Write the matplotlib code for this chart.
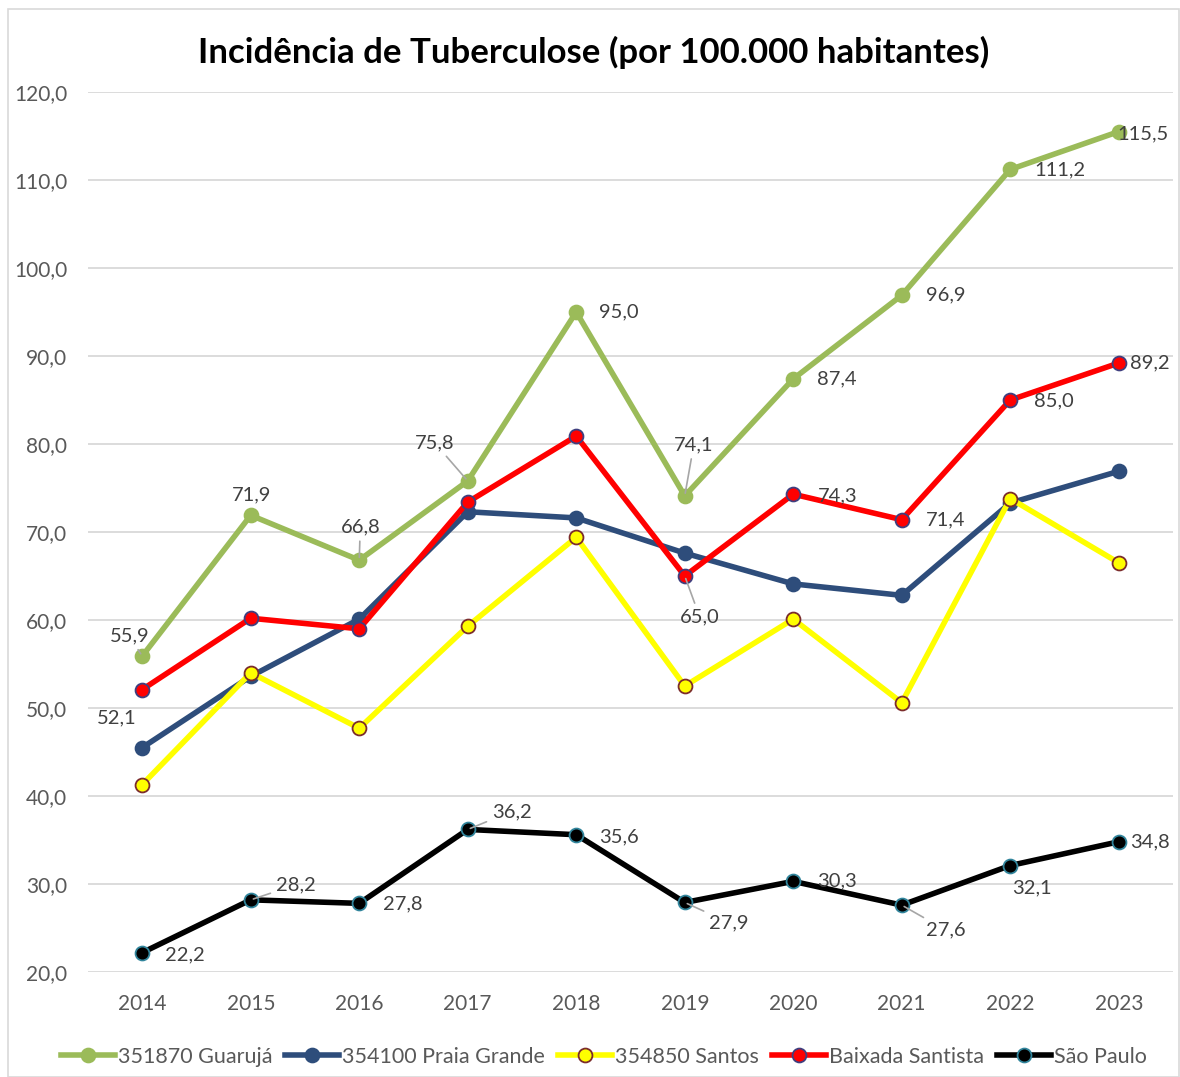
import matplotlib
matplotlib.use("Agg")
import matplotlib.pyplot as plt
from matplotlib.patches import Rectangle

plt.rcParams['font.family'] = ['Lato', 'DejaVu Sans']

years = ["2014", "2015", "2016", "2017", "2018", "2019", "2020", "2021", "2022", "2023"]
guaruja = [55.9, 71.9, 66.8, 75.8, 95.0, 74.1, 87.4, 96.9, 111.2, 115.5]
praia_grande = [45.5, 53.6, 60.1, 72.3, 71.6, 67.6, 64.1, 62.8, 73.3, 76.9]
santos = [41.3, 54.0, 47.7, 59.3, 69.4, 52.5, 60.1, 50.6, 73.8, 66.5]
baixada = [52.1, 60.2, 59.0, 73.4, 80.9, 65.0, 74.3, 71.4, 85.0, 89.2]
sao_paulo = [22.2, 28.2, 27.8, 36.2, 35.6, 27.9, 30.3, 27.6, 32.1, 34.8]
series_names = ["351870 Guarujá", "354100 Praia Grande", "354850 Santos",
                "Baixada Santista", "São Paulo"]
yticks = [20, 30, 40, 50, 60, 70, 80, 90, 100, 110, 120]

# label offsets in pixels (dx, dy; dy positive = up), None = no label, leader flag
g_off = [(-13, 20, True), (1, 20, False), (1, 33, True), (-33, 38, True), (43, 0, False),
         (9, 51, True), (44, 0, False), (44, 0, False), (50, 0, False), (24, -2, False)]
b_off = [(-26, -28, False), None, None, None, None, (15, -41, True), (44, -2, False),
         (44, 0, False), (44, -1, False), (31, 0, False)]
s_off = [(43, -2, False), (45, 15, True), (44, -1, False), (44, 18, True), (43, -2, False),
         (44, -20, True), (44, 0, False), (44, -25, True), (22, -22, False), (31, 0, False)]

W, H = 1180, 1077
fig = plt.figure(figsize=(W / 100, H / 100), dpi=100)
fig.patches.append(Rectangle((8 / W, 0), (W - 9) / W, (H - 9) / H, transform=fig.transFigure,
                             fill=False, edgecolor="#D9D9D9", lw=1.2))
ax = fig.add_axes([88 / W, 1 - 972 / H, (1173 - 88) / W, (972 - 92) / H])

x = list(range(len(years)))
styles = [
    dict(color="#9BBB59", mfc="#9BBB59", mec="#9BBB59"),
    dict(color="#2E4D7B", mfc="#2E4D7B", mec="#2E4D7B"),
    dict(color="#FFFF00", mfc="#FFFF00", mec="#7B2C2C"),
    dict(color="#FF0000", mfc="#FF0000", mec="#3F3F7F"),
    dict(color="#000000", mfc="#000000", mec="#31859C"),
]
data = [guaruja, praia_grande, santos, baixada, sao_paulo]
for i, (vals, st, name) in enumerate(zip(data, styles, series_names)):
    ax.plot(x, vals, lw=4.0, marker="o", ms=10, mew=1.3, label=name, zorder=3 + i,
            solid_joinstyle="miter", **st)

def fmt(v):
    return f"{v:.1f}".replace(".", ",")

for vals, offs in [(guaruja, g_off), (baixada, b_off), (sao_paulo, s_off)]:
    for xi, v, off in zip(x, vals, offs):
        if off is None:
            continue
        dx, dy, leader = off
        kw = {}
        if leader:
            kw["arrowprops"] = dict(arrowstyle="-", color="#A6A6A6", lw=1.2,
                                    shrinkA=2, shrinkB=2)
        ax.annotate(fmt(v), (xi, v), xytext=(dx, dy), textcoords="offset pixels",
                    ha="center", va="center", fontsize=14.5, color="#404040", zorder=20, **kw)

ax.set_xlim(-0.5, len(years) - 0.5)
ax.set_ylim(20, 120)
ax.set_xticks(x)
ax.set_xticklabels(years)
ax.set_yticks(yticks)
ax.set_yticklabels([fmt(t) for t in yticks])
ax.tick_params(length=0, labelsize=15, labelcolor="#595959")
ax.tick_params(axis="x", pad=16)
ax.tick_params(axis="y", pad=15)
ax.grid(axis="y", color="#D9D9D9", lw=1.3, zorder=0)
ax.set_axisbelow(True)
for s in ax.spines.values():
    s.set_visible(False)

fig.text(594 / W, 1 - 52 / H, "Incidência de Tuberculose (por 100.000 habitantes)",
         ha="center", va="center", fontsize=25, fontweight="bold", color="#000000")

fig.legend(loc="center", bbox_to_anchor=(604 / W, 1 - 1057 / H), ncol=5, frameon=False,
           fontsize=15.5, labelcolor="#595959", handlelength=2.5, handletextpad=0.15,
           columnspacing=0.6)

fig.savefig("out.png", dpi=100)
